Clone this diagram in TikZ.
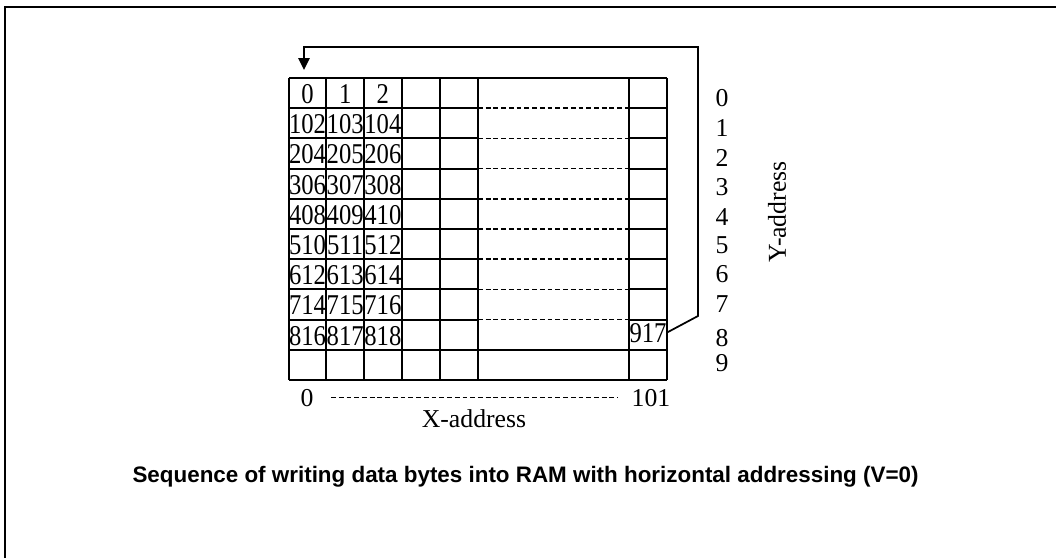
\documentclass[tikz,border=0pt]{standalone}
\usepackage{fontspec}
\setmainfont{Liberation Serif}
\setsansfont{Liberation Sans}
\newfontfamily\cellfont[FakeStretch=0.86]{Liberation Serif}
\usetikzlibrary{arrows.meta}
\tikzset{
        gridline/.style = {line width=1.4pt, black},
        gapline/.style = {line width=1.1pt, black, dash pattern=on 3.6pt off 2.2pt},
        flowline/.style = {line width=1.3pt, black, -{Triangle[length=9pt, width=8.5pt]}},
        cellnum/.style = {inner sep=0pt, anchor=base,
            font=\cellfont\fontsize{21.5}{22}\selectfont},
        addr/.style = {inner sep=0pt, anchor=base,
            font=\fontsize{19.3}{20}\selectfont},
        caption/.style = {inner sep=0pt, anchor=base,
            font=\sffamily\bfseries\fontsize{16.8}{18}\selectfont}
    }

\begin{document}
\begin{tikzpicture}[x=0.75pt, y=-0.75pt]
    \useasboundingbox (0,0) rectangle (1056,558);
    % outer frame (cut at right and bottom)
    \draw[line width=1.5pt] (5,558) -- (5,7) -- (1056,7);
    % columns
    \foreach \x in {289,326,364,402,440,478,629,667}
        \draw[gridline] (\x,78) -- (\x,380);
    % rows: solid on narrow columns, dashed across the gap
    \foreach \r in {0,...,10} {
        \pgfmathsetmacro{\y}{78+30.2*\r}
        \draw[gridline] (289,\y) -- (478,\y);
        \draw[gridline] (629,\y) -- (667,\y);
    }
    \foreach \r in {1,...,8} {
        \pgfmathsetmacro{\y}{78+30.2*\r}
        \draw[gapline] (478,\y) -- (629,\y);
    }
    \draw[gridline] (478,78) -- (629,78) (478,349.8) -- (629,349.8)
        (478,380) -- (629,380);
    % RAM byte numbers
    \foreach \r in {0,...,8}
        \foreach \c in {0,1,2} {
            \pgfmathtruncatemacro{\n}{102*\r+\c}
            \node[cellnum] (cell-\r-\c) at (307.5+37.7*\c, 103.5+30.2*\r) {\n};
        }
    \node[cellnum] (last) at (648,342) {917};
    % wrap-around to the first byte
    \coordinate (turn) at (698,316);
    \coordinate (entry) at (304,70);
    \draw[flowline] (last.east) -- (turn) -- (698,47) -| (entry);
    % Y-address
    \foreach \i/\y in {0/106,1/136,2/166,3/195,4/225,5/253,6/282,7/312,8/346,9/371}
        \node[addr] (ya-\i) at (722,\y) {\i};
    \node[addr, anchor=center, rotate=90] (ylabel) at (777,212) {Y-address};
    % X-address
    \node[addr] (xlo) at (307,406) {0};
    \node[addr] (xhi) at (651,406) {101};
    \draw[gapline, shorten <=13pt, shorten >=10pt] (xlo) -- (xhi);
    \node[addr] (xlabel) at (474,427) {X-address};
    % caption
    \node[caption] (title) at (525.5,482)
        {Sequence of writing data bytes into RAM with horizontal addressing (V=0)};
\end{tikzpicture}
\end{document}
